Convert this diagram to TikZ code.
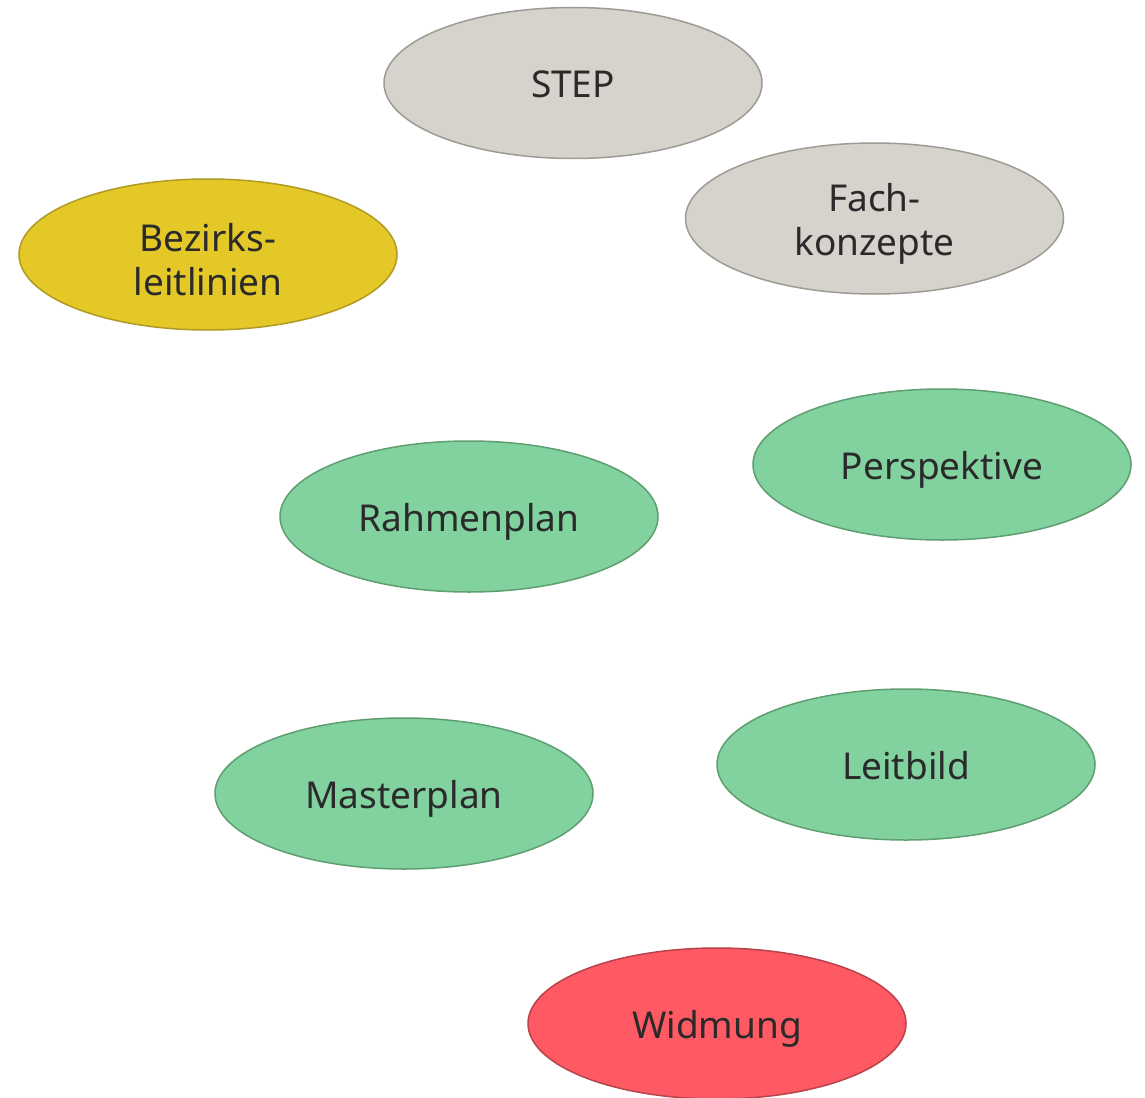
\documentclass[tikz,border=0pt]{standalone}
\usepackage{fontspec}
\setmainfont{Noto Sans}
\usetikzlibrary{shapes.geometric}
\definecolor{stepgray}{HTML}{D6D2CC}
\definecolor{stepgrayline}{HTML}{9E9A94}
\definecolor{bezyellow}{HTML}{E4C828}
\definecolor{bezyellowline}{HTML}{B09A20}
\definecolor{plangreen}{HTML}{82D2A0}
\definecolor{plangreenline}{HTML}{5E9E70}
\definecolor{widred}{HTML}{FF5964}
\definecolor{widredline}{HTML}{B8434B}
\definecolor{labeltext}{HTML}{2A2A2A}
\newcommand{\uplift}{\rule{0pt}{38pt}}
\begin{document}
\begin{tikzpicture}[x=1pt,y=-1pt,
	blob/.style={ellipse,draw,line width=1.5pt,inner sep=0pt,
		minimum width=378pt,minimum height=151pt,align=center,
		text height=29pt,text depth=0pt,
		text=labeltext,font=\fontsize{37pt}{44pt}\selectfont},
	twolines/.style={text height={},text depth={}},
	grayblob/.style={blob,fill=stepgray,draw=stepgrayline},
	yellowblob/.style={blob,fill=bezyellow,draw=bezyellowline},
	greenblob/.style={blob,fill=plangreen,draw=plangreenline},
	redblob/.style={blob,fill=widred,draw=widredline}]
	\useasboundingbox (0,0) rectangle (1145,1097);
	\node[grayblob] (step) at (573,83) {STEP};
	\node[grayblob,twolines] (fach) at (874.5,218.5) {\uplift Fach-\\konzepte};
	\node[yellowblob,twolines] (bezirk) at (208,254.5) {\uplift Bezirks-\\leitlinien};
	\foreach \name/\x/\y/\txt in {persp/942/464.5/Perspektive,
		rahmen/469/516.5/Rahmenplan, leit/906/764.5/Leitbild,
		master/404/793.5/Masterplan}
	\node[greenblob] (\name) at (\x,\y) {\txt};
	\node[redblob] (widmung) at (717,1023.5) {Widmung};
\end{tikzpicture}
\end{document}
